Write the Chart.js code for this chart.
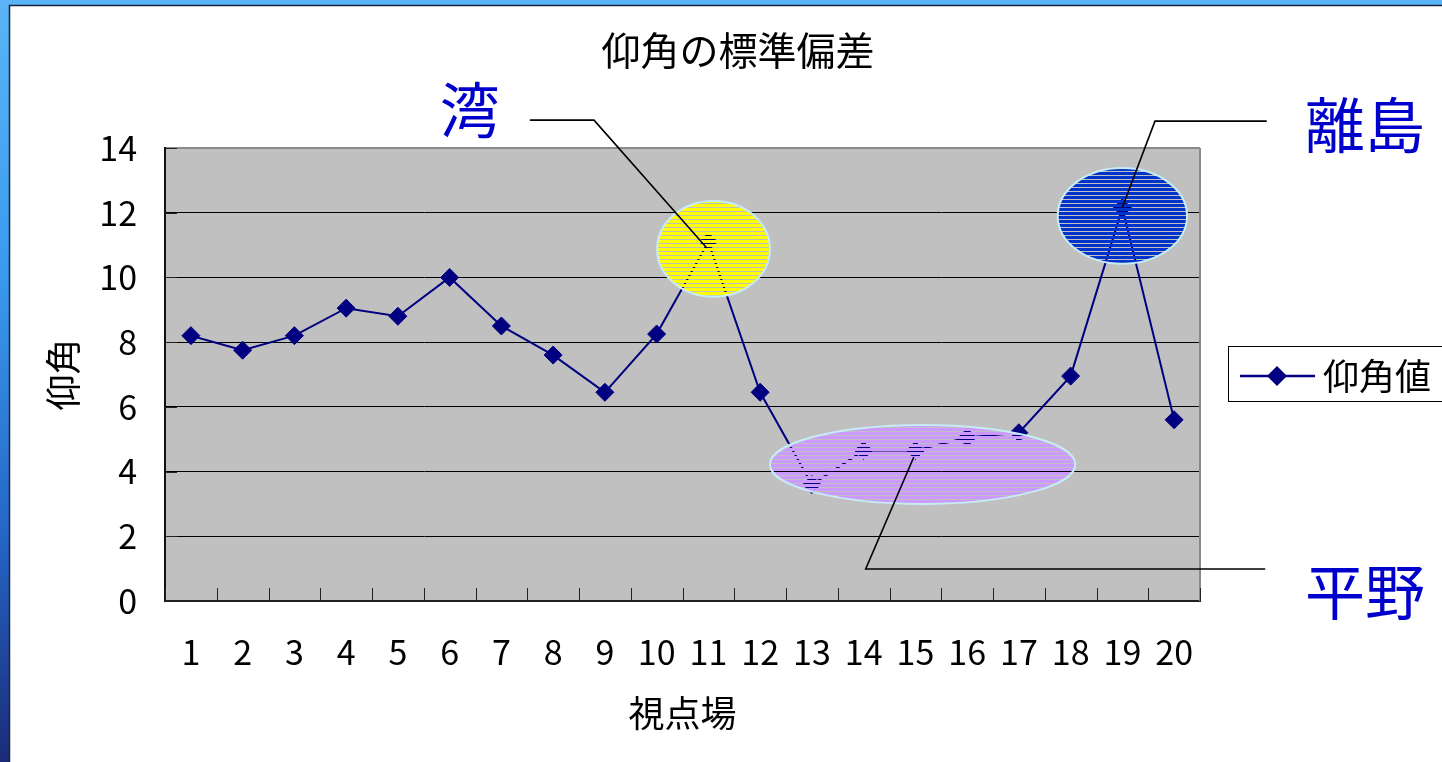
<!DOCTYPE html>
<html lang="ja">
<head>
<meta charset="utf-8">
<title>仰角の標準偏差</title>
<script src="https://cdn.jsdelivr.net/npm/chart.js@4.4.1/dist/chart.umd.min.js"></script>
<style>
  html, body { margin: 0; padding: 0; background: #fff; }
  #wrap { position: relative; width: 1442px; height: 762px; }
</style>
</head>
<body>
<div id="wrap"><canvas id="elev-chart" width="1442" height="762"></canvas></div>
<script>
// 視点場ごとの仰角の標準偏差
const viewpoints = ['1', '2', '3', '4', '5', '6', '7', '8', '9', '10',
                    '11', '12', '13', '14', '15', '16', '17', '18', '19', '20'];
const elevationSd = [8.2, 7.75, 8.2, 9.05, 8.8, 10.0, 8.5, 7.6, 6.45, 8.25,
                     11.1, 6.45, 3.6, 4.65, 4.65, 5.05, 5.2, 6.95, 12.15, 5.6];
const yTicks = [0, 2, 4, 6, 8, 10, 12, 14];
const chartTitle = '仰角の標準偏差';

// 楕円の囲み（x はカテゴリ番号、y は仰角の値で指定）
const regions = [
  { cx: 10.1, cy: 10.88, rx: 1.09, ry: 1.48, fill: '#ffff00' },
  { cx: 18.0, cy: 11.9, rx: 1.25, ry: 1.48, fill: '#0033cc' },
  { cx: 14.14, cy: 4.22, rx: 2.95, ry: 1.22, fill: '#cc99ff' }
];

// 引き出し線とラベル
const callouts = [
  { text: '湾', path: [[6.55, 14.86], [7.79, 14.86], [9.97, 10.91]], at: [5.39, 15.17] },
  { text: '離島', path: [[20.79, 14.83], [18.63, 14.83], [18.0, 12.17]], at: [22.69, 14.71] },
  { text: '平野', path: [[13.97, 4.45], [13.04, 0.99], [20.76, 0.99]], at: [22.69, 0.28] }
];

const COLORS = {
  line: '#000080',
  plotBg: '#c0c0c0',
  callout: '#0000cc',
  ovalEdge: '#c6ecf8'
};

const FONT = "'Noto Sans CJK JP', 'Noto Sans', sans-serif";
Chart.defaults.font.family = FONT;
Chart.defaults.color = '#000';

// 横縞の塗り（隙間は透明）
function stripes(ctx, color) {
  const c = document.createElement('canvas');
  c.width = 8;
  c.height = 4;
  const g = c.getContext('2d');
  g.fillStyle = color;
  g.fillRect(0, 0, 8, 3);
  return ctx.createPattern(c, 'repeat');
}

const decorations = {
  id: 'decorations',
  beforeDraw(chart) {
    const { ctx, chartArea: a } = chart;
    ctx.save();
    // スライドの青い枠と白い下地
    const grad = ctx.createLinearGradient(0, 0, 0, chart.height);
    grad.addColorStop(0, '#5ab4f6');
    grad.addColorStop(0.35, '#3a9bee');
    grad.addColorStop(0.7, '#2566c6');
    grad.addColorStop(1, '#1a2b78');
    ctx.fillStyle = grad;
    ctx.fillRect(0, 0, chart.width, chart.height);
    ctx.fillStyle = '#fff';
    ctx.fillRect(9, 5, chart.width - 9, chart.height - 5);
    ctx.strokeStyle = '#1c2540';
    ctx.lineWidth = 1.5;
    ctx.beginPath();
    ctx.moveTo(9.5, chart.height);
    ctx.lineTo(9.5, 5.5);
    ctx.lineTo(chart.width, 5.5);
    ctx.stroke();
    // プロットエリア
    ctx.fillStyle = COLORS.plotBg;
    ctx.fillRect(a.left, a.top, a.right - a.left, a.bottom - a.top);
    // タイトル
    ctx.fillStyle = '#000';
    ctx.font = `39px ${FONT}`;
    ctx.textAlign = 'center';
    ctx.textBaseline = 'middle';
    ctx.fillText(chartTitle, 738, 50);
    ctx.restore();
  },
  afterDatasetsDraw(chart) {
    const { ctx, chartArea: a } = chart;
    const xs = chart.scales.x, ys = chart.scales.y;
    const px = v => xs.getPixelForValue(v);
    const py = v => ys.getPixelForValue(v);
    const step = px(1) - px(0);

    ctx.save();
    // 右側の枠線
    ctx.strokeStyle = '#8a8a8a';
    ctx.lineWidth = 2;
    ctx.beginPath();
    ctx.moveTo(a.right, a.top);
    ctx.lineTo(a.right, a.bottom);
    ctx.stroke();

    // 目盛り（内向き）
    ctx.strokeStyle = '#222';
    ctx.lineWidth = 1;
    ctx.beginPath();
    for (let i = 0; i <= viewpoints.length; i++) {
      const x = Math.round(px(i - 0.5)) + 0.5;
      ctx.moveTo(x, a.bottom);
      ctx.lineTo(x, a.bottom - 13);
    }
    yTicks.forEach(v => {
      const y = Math.round(py(v)) + 0.5;
      ctx.moveTo(a.left, y);
      ctx.lineTo(a.left + 12, y);
    });
    ctx.stroke();

    // 楕円の囲み
    regions.forEach(r => {
      const cx = px(r.cx), cy = py(r.cy);
      const rx = r.rx * step, ry = Math.abs(py(r.ry) - py(0));
      ctx.beginPath();
      ctx.ellipse(cx, cy, rx, ry, 0, 0, Math.PI * 2);
      ctx.fillStyle = stripes(ctx, r.fill);
      ctx.fill();
      ctx.strokeStyle = COLORS.ovalEdge;
      ctx.lineWidth = 2;
      ctx.stroke();
    });

    // 引き出し線
    ctx.strokeStyle = '#000';
    ctx.lineWidth = 1.6;
    callouts.forEach(c => {
      ctx.beginPath();
      c.path.forEach(([x, y], i) => {
        if (i === 0) ctx.moveTo(px(x), py(y));
        else ctx.lineTo(px(x), py(y));
      });
      ctx.stroke();
    });

    // ラベル
    ctx.fillStyle = COLORS.callout;
    ctx.font = `60px ${FONT}`;
    ctx.textAlign = 'center';
    ctx.textBaseline = 'middle';
    callouts.forEach(c => {
      ctx.fillText(c.text, px(c.at[0]), py(c.at[1]));
    });

    // 凡例（枠付き）
    const ds = chart.data.datasets[0];
    const ly = 376;
    ctx.fillStyle = '#fff';
    ctx.fillRect(1228, 346, 240, 55);
    ctx.strokeStyle = '#000';
    ctx.lineWidth = 1;
    ctx.strokeRect(1228.5, 346.5, 240, 55);
    ctx.strokeStyle = ds.borderColor;
    ctx.lineWidth = 2.5;
    ctx.beginPath();
    ctx.moveTo(1240, ly);
    ctx.lineTo(1315, ly);
    ctx.stroke();
    ctx.fillStyle = ds.backgroundColor;
    ctx.beginPath();
    ctx.moveTo(1277, ly - 10);
    ctx.lineTo(1287, ly);
    ctx.lineTo(1277, ly + 10);
    ctx.lineTo(1267, ly);
    ctx.closePath();
    ctx.fill();
    ctx.fillStyle = '#000';
    ctx.font = `36px ${FONT}`;
    ctx.textAlign = 'left';
    ctx.fillText(ds.label, 1323, ly);
    ctx.restore();
  }
};

new Chart(document.getElementById('elev-chart'), {
  type: 'line',
  data: {
    labels: viewpoints,
    datasets: [{
      label: '仰角値',
      data: elevationSd,
      borderColor: COLORS.line,
      backgroundColor: COLORS.line,
      borderWidth: 2,
      pointStyle: 'rectRot',
      pointRadius: 9,
      pointBorderWidth: 1,
      tension: 0,
      fill: false
    }]
  },
  options: {
    responsive: false,
    animation: false,
    devicePixelRatio: 1,
    layout: { padding: { top: 148, left: 40, right: 242, bottom: 0 } },
    plugins: {
      legend: { display: false },
      tooltip: { enabled: false },
      title: { display: false }
    },
    scales: {
      x: {
        type: 'category',
        offset: true,
        grid: { display: false, drawTicks: false },
        border: { display: true, color: '#222', width: 2 },
        ticks: { padding: 31, font: { size: 34 }, color: '#000', maxRotation: 0, autoSkip: false },
        title: {
          display: true,
          text: '視点場',
          color: '#000',
          font: { size: 36 },
          padding: { top: 0, bottom: 27 }
        },
        afterFit: scale => { scale.height = 161; }
      },
      y: {
        min: yTicks[0],
        max: yTicks[yTicks.length - 1],
        afterBuildTicks: scale => { scale.ticks = yTicks.map(v => ({ value: v })); },
        ticks: { padding: 28, font: { size: 34 }, color: '#000' },
        grid: {
          drawTicks: false,
          color: c => c.tick.value === 0 ? 'rgba(0,0,0,0)'
            : c.tick.value === 14 ? '#8a8a8a' : '#000',
          lineWidth: c => c.tick.value === 14 ? 2 : 1
        },
        border: { display: true, color: '#111', width: 2 },
        title: {
          display: true,
          text: '仰角',
          color: '#000',
          font: { size: 36 },
          padding: { top: 2, bottom: 0 }
        },
        afterFit: scale => { scale.width = 125; }
      }
    }
  },
  plugins: [decorations]
});
</script>
</body>
</html>
